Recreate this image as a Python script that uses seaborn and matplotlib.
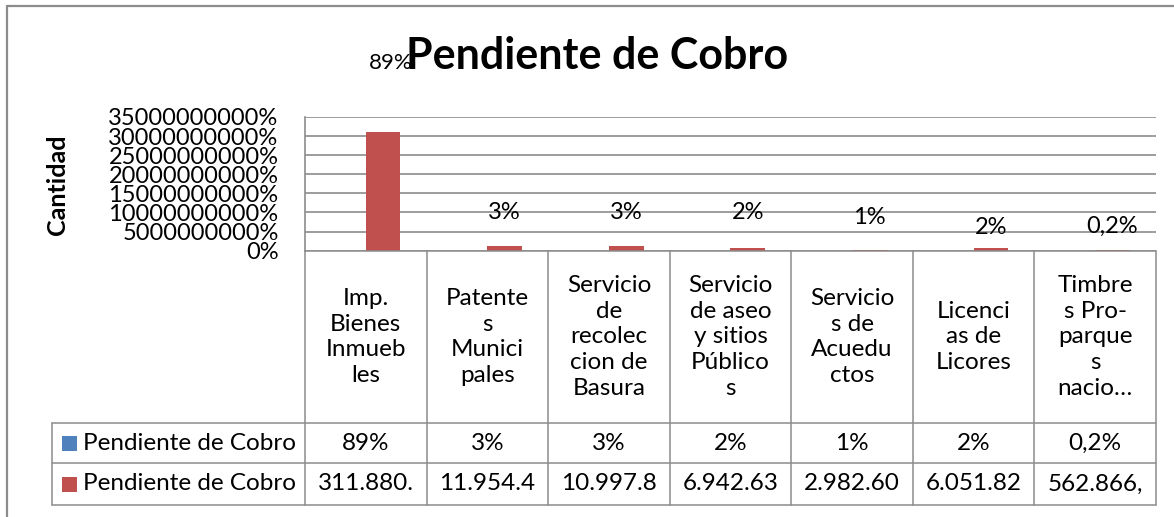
import matplotlib
matplotlib.use("Agg")
import matplotlib.pyplot as plt
import seaborn as sns
import pandas as pd
import numpy as np

# categories as shown (Excel wraps them inside the data table cells)
categories = ["Imp. Bienes Inmuebles", "Patentes Municipales",
              "Servicio de recoleccion de Basura", "Servicio de aseo y sitios Públicos",
              "Servicios de Acueductos", "Licencias de Licores", "Timbres Pro-parques nacio…"]
category_labels = ["Imp.\nBienes\nInmueb\nles", "Patente\ns\nMunici\npales",
                   "Servicio\nde\nrecolec\ncion de\nBasura", "Servicio\nde aseo\ny sitios\nPúblico\ns",
                   "Servicio\ns de\nAcuedu\nctos", "Licenci\nas de\nLicores",
                   "Timbre\ns Pro-\nparque\ns\nnacio…"]
share = [0.89, 0.03, 0.03, 0.02, 0.01, 0.02, 0.002]
amount = [311880000, 11954400, 10997800, 6942630, 2982600, 6051820, 562866]
series_name = "Pendiente de Cobro"
y_ticks = [0, 50e6, 100e6, 150e6, 200e6, 250e6, 300e6, 350e6]

# where Excel dropped the share labels (axis units)
label_y = [491e6, 100e6, 101e6, 99e6, 86e6, 62e6, 65e6]

blue = "#4F81BD"
red = "#C0504D"
grey = "#8C8C8C"

df = pd.DataFrame({
    "cat": categories * 2,
    "serie": ["share"] * 7 + ["amount"] * 7,
    "valor": share + amount,
})

sns.set_style("white")
plt.rcParams["font.family"] = ["Lato", "DejaVu Sans"]

W, H = 1174, 517
fig = plt.figure(figsize=(W / 100, H / 100), dpi=100)
ax = fig.add_axes([305 / W, 1 - 250.7 / H, (1156 - 305) / W, (250.7 - 117) / H])

sns.barplot(data=df, x="cat", y="valor", hue="serie", palette={"share": blue, "amount": red},
            width=0.57, ax=ax, legend=False, saturation=1, linewidth=0)

ax.set_ylim(0, 350e6)
ax.set_xlim(-0.5, 6.5)
ax.set_yticks(y_ticks)
ax.set_yticklabels([f"{v * 100:.0f}%" for v in y_ticks], fontsize=17, color="black")
ax.tick_params(axis="y", length=0, pad=19)
ax.set_xticks([])
ax.set_xlabel("")
ax.set_ylabel("")
ax.yaxis.grid(True, color=grey, linewidth=1.2)
ax.set_axisbelow(True)
for side in ["top", "right", "bottom"]:
    ax.spines[side].set_visible(False)
ax.spines["left"].set_color(grey)
ax.spines["left"].set_linewidth(1.2)

# share labels sit above the red bars
red_bars = ax.containers[1]
for bar, s, ly in zip(red_bars, share, label_y):
    txt = f"{s * 100:g}%".replace(".", ",")
    dx = 0.06 if s > 0.5 else 0
    ax.text(bar.get_x() + bar.get_width() / 2 + dx, ly, txt, ha="center", va="center",
            fontsize=16 if s > 0.5 else 17, color="black", clip_on=False)

# overlay in pixel coordinates for frame, title and the data table
ov = fig.add_axes([0, 0, 1, 1])
ov.set_xlim(0, W)
ov.set_ylim(H, 0)
ov.axis("off")

ov.plot([7, 7], [6, H], color=grey, lw=1.6)
ov.plot([7, W], [6, 6], color=grey, lw=1.6)

ov.text(597, 69, "Pendiente de Cobro", ha="center", va="baseline", fontsize=31,
        fontweight="bold", color="black")
ov.text(57, 185, "Cantidad", ha="center", va="center", rotation=90, fontsize=18,
        fontweight="bold", color="black")

edges = [ax.transData.transform((i - 0.5, 0))[0] for i in range(8)]
centers = [(edges[i] + edges[i + 1]) / 2 for i in range(7)]
top, r1, r2, bottom = 250.7, 423, 463, 505
leg_left = 52

lw = 1.1
ov.plot([edges[0], edges[-1]], [top, top], color=grey, lw=lw)
for yy in [r1, r2, bottom]:
    ov.plot([leg_left, edges[-1]], [yy, yy], color=grey, lw=lw)
for xx in edges:
    ov.plot([xx, xx], [top, bottom], color=grey, lw=lw)
ov.plot([leg_left, leg_left], [r1, bottom], color=grey, lw=lw)

fs = 17.5
for c, lab in zip(centers, category_labels):
    ov.text(c, (top + r1) / 2, lab, ha="center", va="center", fontsize=fs,
            linespacing=1.27, color="black")

row1 = [f"{s * 100:g}%".replace(".", ",") for s in share]
row2 = [f"{v:,.2f}".replace(",", "X").replace(".", ",").replace("X", ".")[:8] for v in amount]
for c, a, b in zip(centers, row1, row2):
    ov.text(c, (r1 + r2) / 2, a, ha="center", va="center", fontsize=fs, color="black")
    ov.text(c, (r2 + bottom) / 2, b, ha="center", va="center", fontsize=fs, color="black")

for (y0, y1), col in zip([(r1, r2), (r2, bottom)], [blue, red]):
    ym = (y0 + y1) / 2
    ov.add_patch(plt.Rectangle((62, ym - 7.5), 15, 15, color=col, lw=0))
    ov.text(83, ym, series_name, ha="left", va="center", fontsize=fs, color="black")

fig.savefig("out.png", dpi=100)
